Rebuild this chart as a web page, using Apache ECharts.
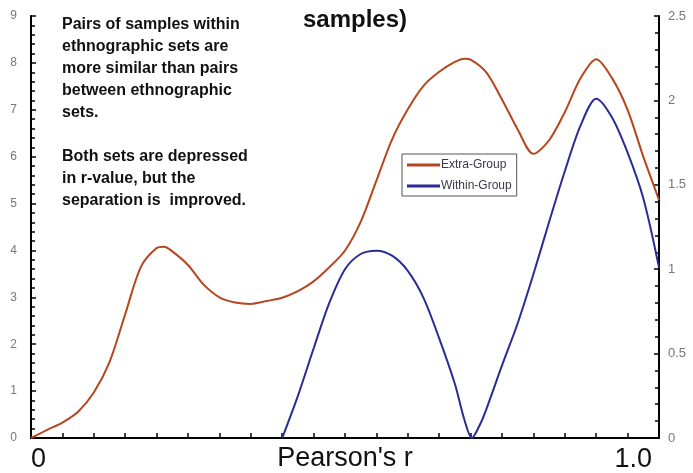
<!DOCTYPE html>
<html>
<head>
<meta charset="utf-8">
<script src="https://cdn.jsdelivr.net/npm/echarts@6/dist/echarts.min.js"></script>
<style>
  html, body { margin: 0; padding: 0; background: #fff; }
  #chart { width: 693px; height: 473px; }
</style>
</head>
<body>
<div id="chart"></div>
<script>
// [pearson r, value]
var extraGroup = [
  [0, 0], [0.025, 0.17], [0.05, 0.33], [0.075, 0.56], [0.1, 0.97], [0.125, 1.62],
  [0.15, 2.64], [0.175, 3.65], [0.2, 4.05], [0.212, 4.08], [0.225, 3.98], [0.25, 3.69],
  [0.275, 3.27], [0.3, 3.0], [0.325, 2.89], [0.35, 2.86], [0.375, 2.92], [0.4, 2.99],
  [0.425, 3.13], [0.45, 3.34], [0.475, 3.64], [0.5, 4.0], [0.525, 4.61], [0.55, 5.49],
  [0.575, 6.37], [0.6, 7.01], [0.625, 7.51], [0.65, 7.81], [0.675, 8.02], [0.69, 8.09],
  [0.7, 8.07], [0.725, 7.8], [0.75, 7.22], [0.775, 6.58], [0.8, 6.06], [0.825, 6.35],
  [0.85, 6.95], [0.875, 7.67], [0.9, 8.08], [0.925, 7.68], [0.95, 7.0], [0.975, 6.0],
  [1.0, 5.08]
];
var withinGroup = [
  [0.4, 0], [0.425, 0.25], [0.45, 0.53], [0.475, 0.8], [0.5, 1.0], [0.525, 1.09],
  [0.55, 1.11], [0.575, 1.08], [0.6, 0.99], [0.625, 0.83], [0.65, 0.59], [0.675, 0.32],
  [0.69, 0.11], [0.702, 0], [0.715, 0.08], [0.725, 0.17], [0.75, 0.43], [0.775, 0.68],
  [0.8, 0.97], [0.825, 1.28], [0.85, 1.58], [0.875, 1.85], [0.9, 2.01], [0.925, 1.9],
  [0.95, 1.69], [0.975, 1.42], [1.0, 1.01]
];
var seriesNames = ['Extra-Group', 'Within-Group'];
var noteLines = [
  'Pairs of samples within',
  'ethnographic sets are',
  'more similar than pairs',
  'between ethnographic',
  'sets.',
  '',
  'Both sets are depressed',
  'in r-value, but the',
  'separation is  improved.'
];

var myChart = echarts.init(document.getElementById('chart'));
var font = 'Liberation Sans, Arial, sans-serif';

var option = {
  backgroundColor: '#fff',
  animation: false,
  title: {
    text: 'samples)',
    left: 303,
    top: 8,
    padding: 0,
    textStyle: { fontFamily: font, fontSize: 24, fontWeight: 'bold', color: '#111' }
  },
  legend: {
    data: seriesNames,
    orient: 'vertical',
    left: 402,
    top: 154,
    padding: [4, 5, 3, 5],
    itemGap: 7,
    itemWidth: 33,
    itemHeight: 3,
    icon: 'rect',
    borderColor: '#555',
    borderWidth: 1,
    borderRadius: 0,
    textStyle: { fontFamily: font, fontSize: 12, color: '#3a3a48', lineHeight: 14, padding: [0, 0, 0, -4] }
  },
  grid: { left: 31, right: 34, top: 16, bottom: 35, outerBoundsMode: 'none', containLabel: false },
  xAxis: {
    type: 'value',
    min: 0,
    max: 1,
    interval: 0.05,
    name: "Pearson's r",
    nameLocation: 'middle',
    nameGap: 7,
    nameMoveOverlap: false,
    nameTextStyle: { fontFamily: font, fontSize: 27, color: '#111', verticalAlign: 'top' },
    axisLine: { lineStyle: { color: '#000', width: 2 } },
    axisTick: { inside: true, length: 5, lineStyle: { color: '#000', width: 1.5 } },
    splitLine: { show: false },
    axisLabel: {
      fontFamily: font,
      fontSize: 27,
      color: '#111',
      margin: 8,
      padding: [0, 7, 0, 0],
      showMinLabel: true,
      showMaxLabel: true,
      alignMinLabel: 'left',
      alignMaxLabel: 'right',
      formatter: function (v) {
        if (v === 0) return '0';
        if (v === 1) return '1.0';
        return '';
      }
    }
  },
  yAxis: [{
    type: 'value',
    min: 0,
    max: 9,
    interval: 1,
    axisLine: { show: true, lineStyle: { color: '#000', width: 2 } },
    axisTick: { show: true, inside: true, length: 5, lineStyle: { color: '#000', width: 1.5 } },
    minorTick: { show: true, splitNumber: 5, length: 4, lineStyle: { color: '#000', width: 1.5 } },
    splitLine: { show: false },
    axisLabel: { fontFamily: font, fontSize: 12, color: '#777', margin: 14 }
  }, {
    type: 'value',
    min: 0,
    max: 2.5,
    interval: 0.5,
    position: 'right',
    axisLine: { show: true, lineStyle: { color: '#000', width: 2 } },
    axisTick: { show: true, inside: true, length: 5, lineStyle: { color: '#000', width: 1.5 } },
    minorTick: { show: true, splitNumber: 5, length: 4, lineStyle: { color: '#000', width: 1.5 } },
    splitLine: { show: false },
    axisLabel: { fontFamily: font, fontSize: 13, color: '#777', margin: 9 }
  }],
  graphic: [{
    type: 'text',
    left: 62,
    top: 14,
    style: {
      text: noteLines.join('\n'),
      font: 'bold 16px ' + font,
      lineHeight: 22,
      fill: '#111'
    }
  }],
  series: [{
    name: seriesNames[0],
    type: 'line',
    yAxisIndex: 0,
    smooth: 0.3,
    symbol: 'none',
    color: '#b5461d',
    lineStyle: { color: '#b5461d', width: 2 },
    data: extraGroup
  }, {
    name: seriesNames[1],
    type: 'line',
    yAxisIndex: 1,
    smooth: 0.3,
    symbol: 'none',
    color: '#2b2b95',
    lineStyle: { color: '#2b2b95', width: 2 },
    data: withinGroup
  }]
};

myChart.setOption(option);
window.onresize = function () {
  myChart.resize();
};
</script>
</body>
</html>
